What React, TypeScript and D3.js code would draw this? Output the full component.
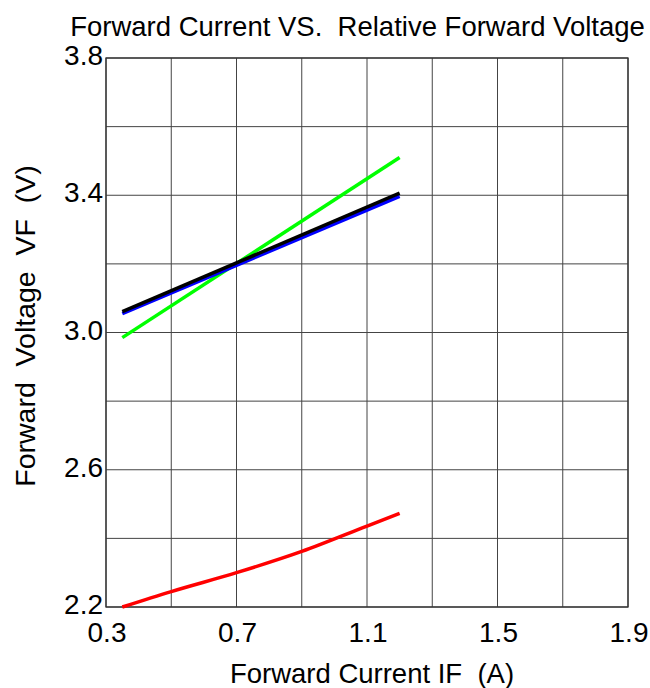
import React from "react";
import * as d3 from "d3";

const xTicks = [0.3, 0.7, 1.1, 1.5, 1.9];
const yTicks = [2.2, 2.6, 3.0, 3.4, 3.8];
const redX = [0.35, 0.5, 0.7, 0.9, 1.1, 1.2];
const redY = [2.2, 2.245, 2.3, 2.362, 2.436, 2.473];
const greenX = [0.35, 1.2];
const greenY = [2.985, 3.51];
const blueX = [0.35, 1.2];
const blueY = [3.055, 3.397];
const blackX = [0.35, 1.2];
const blackY = [3.061, 3.406];

const W = 650, H = 688;
const L = 106, R = 628, T = 58, B = 607;

export default function App() {
  const x = d3.scaleLinear().domain([0.3, 1.9]).range([L, R]);
  const y = d3.scaleLinear().domain([2.2, 3.8]).range([B, T]);
  const gridX = d3.range(0, 9).map((i) => 0.3 + i * 0.2);
  const gridY = d3.range(0, 9).map((i) => 2.2 + i * 0.2);
  const line = d3.line<[number, number]>().x((d) => x(d[0])).y((d) => y(d[1]));
  const redLine = d3.line<[number, number]>().x((d) => x(d[0])).y((d) => y(d[1])).curve(d3.curveMonotoneX);
  const zip = (a: number[], b: number[]) => a.map((v, i) => [v, b[i]] as [number, number]);
  const font = "Arial, 'Liberation Sans', sans-serif";
  const pre = { whiteSpace: "pre" as const };
  return (
    <svg width={W} height={H} style={{ position: "absolute", left: 0, top: 0 }} fontFamily={font}>
      <rect width={W} height={H} fill="#fff" />
      <text x={357.5} y={36} fontSize={27.5} textAnchor="middle" fill="#000" style={pre}>Forward Current VS.  Relative Forward Voltage</text>
      {gridX.map((v, i) => (
        <line key={"gx" + i} x1={x(v)} x2={x(v)} y1={T} y2={B} stroke="#444" strokeWidth={1} />
      ))}
      {gridY.map((v, i) => (
        <line key={"gy" + i} x1={L} x2={R} y1={y(v)} y2={y(v)} stroke="#444" strokeWidth={1} />
      ))}
      <rect x={L} y={T} width={R - L} height={B - T} fill="none" stroke="#333" strokeWidth={1.3} />
      {yTicks.map((v) => (
        <text key={"yt" + v} x={L - 3} y={y(v) + 7} fontSize={28} textAnchor="end" fill="#000">{v.toFixed(1)}</text>
      ))}
      {xTicks.map((v) => (
        <text key={"xt" + v} x={x(v) + 1} y={642} fontSize={28} textAnchor="middle" fill="#000">{v.toFixed(1)}</text>
      ))}
      <text x={372} y={683} fontSize={27.5} textAnchor="middle" fill="#000" style={pre}>Forward Current IF  (A)</text>
      <text transform="translate(35,326) rotate(-90)" fontSize={28.5} textAnchor="middle" fill="#000" style={pre}>Forward  Voltage  VF  (V)</text>
      <path d={redLine(zip(redX, redY)) || ""} fill="none" stroke="#ff0000" strokeWidth={3.5} />
      <path d={line(zip(greenX, greenY)) || ""} fill="none" stroke="#00ff00" strokeWidth={3.5} />
      <path d={line(zip(blueX, blueY)) || ""} fill="none" stroke="#0000ff" strokeWidth={3.5} />
      <path d={line(zip(blackX, blackY)) || ""} fill="none" stroke="#000" strokeWidth={3.5} />
    </svg>
  );
}
